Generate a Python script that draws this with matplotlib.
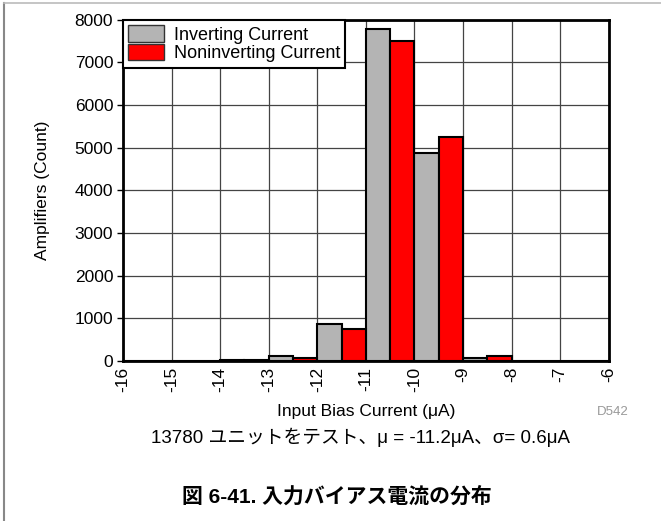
import matplotlib.pyplot as plt
from matplotlib.patches import Patch
from matplotlib.lines import Line2D

plt.rcParams['font.family'] = ['Liberation Sans', 'Noto Sans CJK JP']

# bins of 1 uA, left edge of each bin
bin_left = [-16, -15, -14, -13, -12, -11, -10, -9, -8, -7]
inverting = [0, 0, 30, 110, 870, 7780, 4880, 80, 0, 0]
noninverting = [0, 0, 15, 80, 750, 7510, 5260, 120, 0, 0]

xticks = list(range(-16, -5))
yticks = list(range(0, 8001, 1000))

fig = plt.figure(figsize=(6.61, 5.21), dpi=100)
ax = fig.add_axes([0.186, 0.307, 0.735, 0.655])

ax.bar(bin_left, inverting, width=0.5, align='edge', color='#b4b4b4',
       edgecolor='black', linewidth=1.5, zorder=3)
ax.bar([b + 0.5 for b in bin_left], noninverting, width=0.5, align='edge',
       color='#ff0000', edgecolor='black', linewidth=1.5, zorder=3)

ax.set_xlim(-16, -6)
ax.set_ylim(0, 8000)
ax.set_xticks(xticks)
ax.set_xticklabels([str(t) for t in xticks], rotation=90, fontsize=12.5)
ax.set_yticks(yticks)
ax.set_yticklabels([str(t) for t in yticks], fontsize=12.5)
ax.tick_params(axis='x', length=0, pad=4)
ax.tick_params(axis='y', length=4, width=1, direction='out', pad=3)
ax.grid(True, color='#444444', linewidth=0.9, zorder=0)
for s in ax.spines.values():
    s.set_linewidth(2)

ax.set_xlabel('Input Bias Current (\u03bcA)', fontsize=12.5, labelpad=9)
ax.set_ylabel('Amplifiers (Count)', fontsize=12.5, labelpad=18)

handles = [Patch(facecolor='#b4b4b4', edgecolor='#333333'),
           Patch(facecolor='#ff0000', edgecolor='#333333')]
leg = ax.legend(handles, ['Inverting Current', 'Noninverting Current'],
                loc='upper left', bbox_to_anchor=(0, 1), borderaxespad=0,
                fontsize=13, frameon=True, fancybox=False, framealpha=1,
                edgecolor='black', handlelength=2.0, handleheight=1.05,
                labelspacing=0, handletextpad=0.5, borderpad=0.3)
leg.get_frame().set_linewidth(1.5)
leg.set_zorder(5)

fig.text(0.903, 0.209, 'D542', color='#999999', fontsize=9.5, va='center', ha='left')
fig.text(0.546, 0.161, '13780 ユニットをテスト、\u03bc = -11.2\u03bcA、\u03c3= 0.6\u03bcA',
         fontsize=13.5, ha='center', va='center')
fig.text(0.51, 0.046, '図 6-41. 入力バイアス電流の分布', fontsize=15,
         fontweight='bold', ha='center', va='center')

# outer frame of the figure (left and top edges)
fig.add_artist(Line2D([0.006, 0.006], [0, 0.995], color='#888888', linewidth=1.5))
fig.add_artist(Line2D([0.006, 1], [0.995, 0.995], color='#bbbbbb', linewidth=1.2))

fig.savefig('out.png', dpi=100)
